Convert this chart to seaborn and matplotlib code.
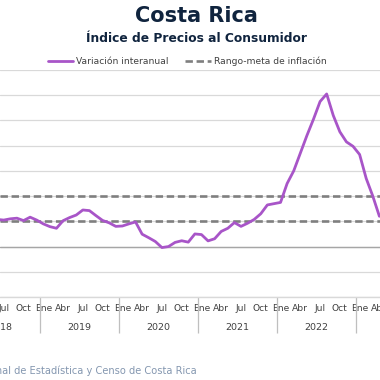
import matplotlib
matplotlib.use("Agg")
import matplotlib.pyplot as plt
import matplotlib.transforms as mtransforms
from matplotlib.lines import Line2D
import seaborn as sns
import pandas as pd
import numpy as np

# ---- data ----
meses_abrev = ["Ene", "Feb", "Mar", "Abr", "May", "Jun", "Jul", "Ago", "Sep", "Oct", "Nov", "Dic"]
anios = [2018, 2019, 2020, 2021, 2022, 2023]
inicio = (2018, 6)  # Jun 2018
variacion = [2.15, 2.10, 2.20, 2.25, 2.06, 2.33, 2.10,            # Jun-Dic 2018
             1.80, 1.58, 1.45, 2.05, 2.30, 2.50, 2.90, 2.85, 2.45, 2.07, 1.88, 1.60,   # 2019
             1.63, 1.80, 1.95, 0.98, 0.70, 0.40, -0.08, 0.00, 0.33, 0.46, 0.35, 1.00,  # 2020
             0.95, 0.45, 0.62, 1.20, 1.45, 1.90, 1.60, 1.85, 2.15, 2.60, 3.30, 3.40,   # 2021
             3.50, 5.00, 6.00, 7.40, 8.80, 10.10, 11.50, 12.10, 10.40, 9.10, 8.30, 7.95,  # 2022
             7.30, 5.40, 4.00, 2.40]                                  # Ene-Abr 2023
meta_inferior = 2.0
meta_superior = 4.0

# month index relative to Ene 2019 = 0
start_idx = (inicio[0] - 2019) * 12 + (inicio[1] - 1)
idx = list(range(start_idx, start_idx + len(variacion)))
df = pd.DataFrame({"mes": idx, "variacion": variacion})

sns.set_theme(style="white")
plt.rcParams["font.family"] = ["DejaVu Sans"]

W = 380
fig = plt.figure(figsize=(3.8, 3.8), dpi=100)
top_px, bot_px = 70, 297
ax = fig.add_axes([0, 1 - bot_px / W, 1, (bot_px - top_px) / W])

purple = "#A855C8"
gray_dash = "#7f7f7f"

ax.axhline(meta_superior, color=gray_dash, lw=1.9, dashes=(2.8, 1.4), zorder=2)
ax.axhline(meta_inferior, color=gray_dash, lw=1.9, dashes=(2.8, 1.4), zorder=2)
sns.lineplot(data=df, x="mes", y="variacion", color=purple, lw=2.0, ax=ax, zorder=3,
             solid_joinstyle="round", solid_capstyle="round")

ax.set_yticks(np.arange(-4, 15, 2))
ax.set_yticklabels([])
ax.tick_params(axis="y", length=0)
ax.grid(axis="y", color="#d9d9d9", lw=0.9)
ax.axhline(0, color="#a6a6a6", lw=1.0, zorder=1)
for s in ["left", "right", "top"]:
    ax.spines[s].set_visible(False)
ax.spines["bottom"].set_color("#d9d9d9")
ax.spines["bottom"].set_linewidth(1.0)

# quarter month labels
qt = []
ql = []
for y in anios:
    for m in [0, 3, 6, 9]:
        qt.append((y - 2019) * 12 + m)
        ql.append(meses_abrev[m])
ax.set_xticks(qt)
ax.set_xticklabels(ql, fontsize=6.6, color="#404040")
ax.tick_params(axis="x", which="major", length=0, pad=5)
# year separators
ax.set_xticks([(y - 2019) * 12 - 0.5 for y in anios], minor=True)
ax.tick_params(axis="x", which="minor", bottom=True, length=26, width=0.9,
               color="#bfbfbf", direction="out")
ax.set_xlabel("")
ax.set_ylabel("")

px_per_month = 6.59
x0 = (0 - 40) / px_per_month - 0.5
x1 = (380 - 40) / px_per_month - 0.5
ax.set_xlim(x0, x1)
ax.set_ylim(-4, 14)

trans = mtransforms.blended_transform_factory(ax.transData, ax.transAxes)
for y in anios[:-1]:
    ax.text((y - 2019) * 12 + 5.5, (bot_px - 328) / (bot_px - top_px), str(y),
            transform=trans, ha="center", va="center", fontsize=6.8, color="#404040")

fig.text(196 / W, 1 - 16 / W, "Costa Rica", ha="center", va="center",
         fontsize=15, fontweight="bold", color="#10243e")
fig.text(197 / W, 1 - 39 / W, "Índice de Precios al Consumidor", ha="center", va="center",
         fontsize=8.8, fontweight="bold", color="#10243e")

handles = [Line2D([], [], color=purple, lw=2.0),
           Line2D([], [], color=gray_dash, lw=1.9, dashes=(2.8, 1.4))]
fig.legend(handles, ["Variación interanual", "Rango-meta de inflación"],
           loc="center", bbox_to_anchor=(187 / W, 1 - 61 / W), ncol=2, frameon=False,
           fontsize=6.6, handlelength=2.8, columnspacing=1.8, handletextpad=0.3,
           labelcolor="#404040")

fig.text(197 / W, 1 - 371 / W, "Fuente: Instituto Nacional de Estadística y Censo de Costa Rica",
         ha="right", va="center", fontsize=7.1, color="#8497b0")

fig.savefig("out.png", dpi=100, facecolor="white")
